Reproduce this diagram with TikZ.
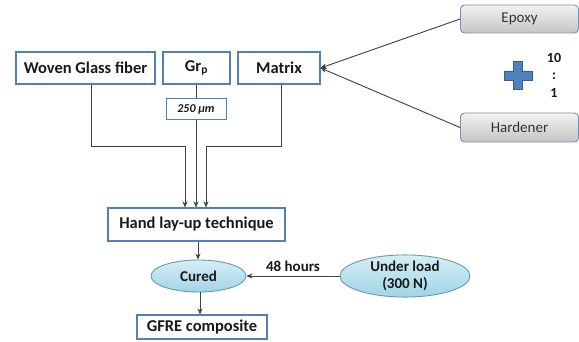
\documentclass[tikz,border=0pt]{standalone}
\usepackage{fontspec}
\setmainfont{Carlito}
\usetikzlibrary{arrows.meta,shapes.geometric}
\definecolor{boxblue}{RGB}{79,129,189}
\definecolor{linegray}{RGB}{64,64,64}
\definecolor{elltop}{RGB}{214,238,246}
\definecolor{ellbot}{RGB}{160,212,230}
\definecolor{elledge}{RGB}{110,152,174}
\definecolor{graytop}{RGB}{242,242,242}
\definecolor{graybot}{RGB}{196,196,196}
\definecolor{grayedge}{RGB}{120,145,176}
\definecolor{plusblue}{RGB}{79,129,189}
\definecolor{plusedge}{RGB}{56,93,138}
\begin{document}
\begin{tikzpicture}[x=1pt,y=-1pt,
  sqbox/.style={draw=boxblue, line width=1.1pt, fill=white, inner sep=0pt,
    font=\bfseries\fontsize{16.5}{18}\selectfont, text=black!90},
  smallbox/.style={draw=boxblue, line width=1pt, fill=white, inner sep=0pt,
    font=\bfseries\itshape\fontsize{12}{14}\selectfont, text=black!90},
  graybox/.style={draw=grayedge, line width=0.9pt, rounded corners=4pt,
    top color=graytop, bottom color=graybot, inner sep=0pt,
    font=\fontsize{15}{17}\selectfont, text=black!80},
  ell/.style={ellipse, draw=elledge, line width=0.9pt, top color=elltop,
    bottom color=ellbot, inner sep=0pt, align=center,
    font=\bfseries\fontsize{15}{17}\selectfont, text=black!90},
  conn/.style={draw=linegray, line width=0.9pt},
  arr/.style={conn, -{Stealth[length=6pt,width=5pt]}},
  ratio/.style={font=\bfseries\fontsize{14}{16}\selectfont, text=black!90, inner sep=0pt}
]
\useasboundingbox[fill=white] (0,0) rectangle (579,342);

% top row
\node[sqbox, minimum width=139pt, minimum height=32pt] (wg) at (85.5,68) {Woven Glass fiber};
\node[sqbox, minimum width=67pt, minimum height=32pt] (gr) at (196.5,68) {Gr\textsubscript{p}};
\node[sqbox, minimum width=82pt, minimum height=32pt] (mx) at (279,68) {Matrix};
\node[smallbox, minimum width=60pt, minimum height=21pt] (um) at (196,109.5) {250 µm};

% epoxy / hardener
\node[graybox, minimum width=118pt, minimum height=28pt] (ep) at (519.5,19) {Epoxy};
\node[graybox, minimum width=118pt, minimum height=29pt] (hd) at (519.5,127.5) {Hardener};

% plus sign
\coordinate (pc) at (518,75.5);
\filldraw[fill=plusblue, draw=plusedge, line width=0.6pt]
  ([shift={(-4.5,-14)}]pc) -- ([shift={(4.5,-14)}]pc) -- ([shift={(4.5,-4.5)}]pc)
  -- ([shift={(14,-4.5)}]pc) -- ([shift={(14,4.5)}]pc) -- ([shift={(4.5,4.5)}]pc)
  -- ([shift={(4.5,14)}]pc) -- ([shift={(-4.5,14)}]pc) -- ([shift={(-4.5,4.5)}]pc)
  -- ([shift={(-14,4.5)}]pc) -- ([shift={(-14,-4.5)}]pc) -- ([shift={(-4.5,-4.5)}]pc) -- cycle;
\node[ratio] (r10) at (554,58) {10};
\node[ratio] (rc) at (554,76) {:};
\node[ratio] (r1) at (554,93) {1};

% middle / bottom
\node[sqbox, minimum width=177pt, minimum height=33pt] (hl) at (196.5,224.5) {Hand lay-up technique};
\node[ell, minimum width=95pt, minimum height=32pt] (cu) at (198.5,276) {Cured};
\node[ell, minimum width=130pt, minimum height=42pt] (ul) at (405,276) {Under load\\(300 N)};
\node[sqbox, minimum width=130pt, minimum height=24pt] (gf) at (202,327) {GFRE composite};

% connectors
\coordinate (bend) at (0,146);
\draw[arr] ([xshift=5.5pt]wg.south) -- ([xshift=5.5pt]wg.south |- bend) -| ([xshift=-11.5pt]hl.north);
\draw[conn] (gr.south) -- (gr.south |- um.north);
\draw[arr] (um.south) -- (um.south |- hl.north);
\draw[arr] ([xshift=2pt]mx.south) -- ([xshift=2pt]mx.south |- bend) -| ([xshift=9.5pt]hl.north);
\draw[arr] (ep.west) -- (mx.east);
\draw[arr] (hd.west) -- (mx.east);
\draw[arr] ([xshift=1.5pt]hl.south) -- ([xshift=1.5pt]hl.south |- cu.north);
\draw[arr] ([xshift=1.5pt]cu.south) -- ([xshift=1.5pt]cu.south |- gf.north);
\draw[arr] (ul.west) -- node[above=1pt, font=\bfseries\fontsize{15}{17}\selectfont, text=black!90] (lbl) {48 hours} (cu.east);
\end{tikzpicture}
\end{document}
